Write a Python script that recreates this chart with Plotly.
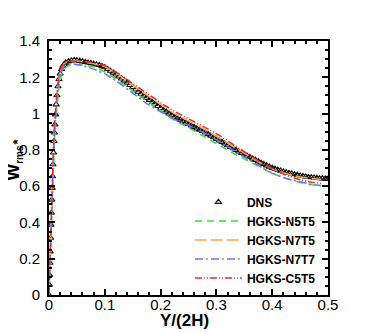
import plotly.graph_objects as go

# DNS reference data (Y/(2H), W_rms*)
dns_y = [0, 0.0005, 0.001, 0.0016, 0.0022, 0.0029, 0.0035, 0.0042, 0.0049, 0.0056,
         0.0063, 0.0071, 0.0080, 0.0089, 0.0097, 0.0105, 0.0115, 0.0128, 0.0143, 0.016,
         0.018, 0.020, 0.0225, 0.025, 0.0275,
         0.030, 0.035, 0.040, 0.045, 0.050, 0.055, 0.060, 0.065, 0.070, 0.075,
         0.080, 0.085, 0.090, 0.095, 0.100, 0.105, 0.110, 0.115, 0.120, 0.125,
         0.130, 0.135, 0.140, 0.145, 0.150, 0.155, 0.160, 0.165, 0.170, 0.175,
         0.180, 0.185, 0.190, 0.195, 0.200, 0.205, 0.210, 0.215, 0.220, 0.225,
         0.230, 0.235, 0.240, 0.245, 0.250, 0.255, 0.260, 0.265, 0.270, 0.275,
         0.280, 0.285, 0.290, 0.295, 0.300, 0.305, 0.310, 0.315, 0.320, 0.325,
         0.330, 0.335, 0.340, 0.345, 0.350, 0.355, 0.360, 0.365, 0.370, 0.375,
         0.380, 0.385, 0.390, 0.395, 0.400, 0.405, 0.410, 0.415, 0.420, 0.425,
         0.430, 0.435, 0.440, 0.445, 0.450, 0.455, 0.460, 0.465, 0.470, 0.475,
         0.480, 0.485, 0.490, 0.495, 0.500]
dns_w = [0, 0.055, 0.11, 0.177, 0.24, 0.315, 0.387, 0.453, 0.525, 0.59,
         0.654, 0.72, 0.785, 0.848, 0.895, 0.94, 0.995, 1.05, 1.10, 1.15,
         1.19, 1.22, 1.245, 1.262, 1.273,
         1.280, 1.288, 1.292, 1.294, 1.293, 1.290, 1.287, 1.284, 1.281, 1.278,
         1.274, 1.270, 1.267, 1.261, 1.255, 1.245, 1.235, 1.225, 1.215, 1.204,
         1.193, 1.181, 1.170, 1.157, 1.145, 1.132, 1.120, 1.109, 1.098, 1.086,
         1.075, 1.064, 1.053, 1.041, 1.030, 1.020, 1.010, 1.000, 0.990, 0.982,
         0.974, 0.966, 0.958, 0.950, 0.942, 0.934, 0.926, 0.918, 0.911, 0.903,
         0.895, 0.886, 0.878, 0.869, 0.860, 0.851, 0.843, 0.834, 0.825, 0.816,
         0.808, 0.799, 0.790, 0.782, 0.775, 0.767, 0.760, 0.752, 0.744, 0.736,
         0.728, 0.721, 0.714, 0.707, 0.700, 0.695, 0.690, 0.685, 0.680, 0.676,
         0.672, 0.669, 0.665, 0.662, 0.658, 0.655, 0.652, 0.650, 0.648, 0.647,
         0.645, 0.643, 0.642, 0.641, 0.640]

# HGKS results, all on the same Y/(2H) points
hgks_y = [0, 0.002, 0.004, 0.006, 0.008, 0.010, 0.012, 0.015, 0.018, 0.022,
          0.027, 0.033, 0.040, 0.050, 0.060, 0.080, 0.100, 0.125, 0.150, 0.175,
          0.200, 0.225, 0.250, 0.275, 0.300, 0.325, 0.350, 0.375, 0.400, 0.425,
          0.450, 0.470, 0.488]
n5t5_w = [0, 0.20, 0.40, 0.58, 0.74, 0.87, 0.97, 1.08, 1.15, 1.21,
          1.245, 1.26, 1.268, 1.27, 1.268, 1.258, 1.23, 1.18, 1.125, 1.068,
          1.015, 0.962, 0.922, 0.88, 0.835, 0.79, 0.75, 0.71, 0.67, 0.642,
          0.62, 0.608, 0.601]
n7t5_w = [0, 0.22, 0.44, 0.63, 0.80, 0.93, 1.03, 1.13, 1.20, 1.25,
          1.275, 1.287, 1.29, 1.29, 1.285, 1.275, 1.26, 1.213, 1.155, 1.10,
          1.05, 1.0, 0.96, 0.92, 0.875, 0.828, 0.78, 0.735, 0.695, 0.668,
          0.65, 0.641, 0.636]
n7t7_w = [0, 0.22, 0.43, 0.62, 0.78, 0.91, 1.01, 1.11, 1.18, 1.23,
          1.26, 1.272, 1.275, 1.272, 1.265, 1.245, 1.22, 1.17, 1.11, 1.055,
          1.01, 0.968, 0.935, 0.898, 0.855, 0.806, 0.76, 0.714, 0.67, 0.642,
          0.623, 0.610, 0.603]
c5t5_w = [0, 0.23, 0.45, 0.64, 0.81, 0.94, 1.04, 1.14, 1.21, 1.255,
          1.278, 1.287, 1.29, 1.29, 1.287, 1.28, 1.265, 1.22, 1.165, 1.11,
          1.06, 1.012, 0.972, 0.933, 0.89, 0.84, 0.79, 0.74, 0.695, 0.66,
          0.635, 0.622, 0.615]

font = "Liberation Sans, Arial, Helvetica, sans-serif"

fig = go.Figure()
fig.add_trace(go.Scatter(x=dns_y, y=dns_w, name="<b>DNS</b>", mode="markers",
                         marker=dict(symbol="triangle-up-open", size=5.5, color="#111111",
                                     line=dict(width=1.1))))
fig.add_trace(go.Scatter(x=hgks_y, y=n5t5_w, name="<b>HGKS-N5T5</b>", mode="lines",
                         line=dict(color="#3ddc3d", width=1.5, dash="7px,5px")))
fig.add_trace(go.Scatter(x=hgks_y, y=n7t5_w, name="<b>HGKS-N7T5</b>", mode="lines",
                         line=dict(color="#ffaa4f", width=1.5, dash="12px,4px")))
fig.add_trace(go.Scatter(x=hgks_y, y=n7t7_w, name="<b>HGKS-N7T7</b>", mode="lines",
                         line=dict(color="#6f6fff", width=1.5, dash="8px,3px,2px,3px")))
fig.add_trace(go.Scatter(x=hgks_y, y=c5t5_w, name="<b>HGKS-C5T5</b>", mode="lines",
                         line=dict(color="#dd3030", width=1.5, dash="7px,2px,1px,2px,1px,2px")))

axis_style = dict(
    showline=True, linecolor="black", linewidth=2, mirror="allticks",
    ticks="inside", ticklen=6, tickwidth=1.5, tickcolor="black",
    showgrid=False, zeroline=False,
    tickfont=dict(family=font, size=15, color="black"),
)

fig.update_xaxes(range=[0, 0.5], dtick=0.1, tick0=0, ticklabelstandoff=-5,
                 minor=dict(dtick=0.02, ticks="inside", ticklen=3, tickcolor="black", showgrid=False),
                 **axis_style)
fig.update_yaxes(range=[0, 1.4], dtick=0.2, tick0=0, ticklabelstandoff=4,
                 minor=dict(dtick=0.05, ticks="inside", ticklen=3, tickcolor="black", showgrid=False),
                 **axis_style)

# the page body adds an 8px offset, so margins are set 8px smaller on top/left
fig.update_layout(
    width=374, height=332,
    margin=dict(l=41, r=54, t=33, b=45),
    plot_bgcolor="white", paper_bgcolor="white",
    showlegend=True,
    legend=dict(x=0.505, y=0.2165, xanchor="left", yanchor="middle",
                bgcolor="rgba(0,0,0,0)", itemwidth=47, tracegroupgap=0,
                font=dict(family=font, size=12, color="black")),
    annotations=[
        dict(text="<b>Y/(2H)</b>", x=0.487, y=-0.1, xref="paper", yref="paper",
             showarrow=False, xanchor="center", yanchor="middle",
             font=dict(family=font, size=17, color="black")),
        dict(text="<b>W<sub><span style='font-size:10px'>rms</span></sub></b>",
             x=-0.124, y=0.522, xref="paper", yref="paper",
             showarrow=False, textangle=-90, xanchor="center", yanchor="middle",
             font=dict(family=font, size=18, color="black")),
        dict(text="<b>*</b>", x=-0.146, y=0.603, xref="paper", yref="paper",
             showarrow=False, textangle=-90, xanchor="left", yanchor="middle",
             font=dict(family=font, size=13, color="black")),
    ],
)

fig.write_html("out.html")
